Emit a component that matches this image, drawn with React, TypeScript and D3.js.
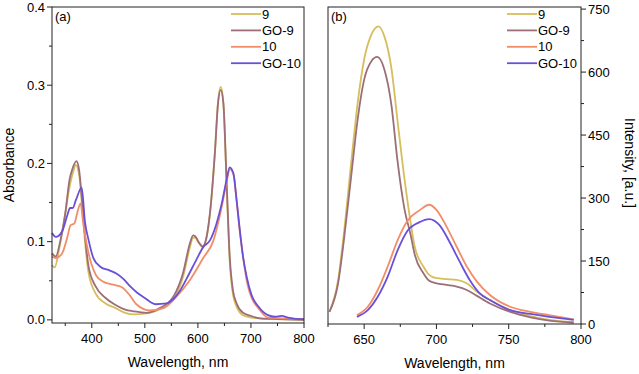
import React, { useEffect, useRef } from 'react';
import * as d3 from 'd3';

// ---- series names / colours
const seriesNames = ['9', 'GO-9', '10', 'GO-10'];
const seriesColors = ['#d6be5c', '#9c6f78', '#f28d68', '#6a50d8'];

// ---- (a) absorbance spectra
const absWl9 = [325, 330, 338, 347, 357, 364, 370, 376, 382, 388, 394, 407, 426, 445, 463, 480, 500, 520, 540, 556, 572, 585, 591, 595, 601, 609, 616, 623, 632, 638, 643, 648, 654, 660, 666, 673, 685, 700, 717, 750, 800];
const absVal9 = [0.070, 0.067, 0.089, 0.123, 0.166, 0.187, 0.198, 0.186, 0.143, 0.094, 0.060, 0.034, 0.021, 0.015, 0.009, 0.007, 0.008, 0.011, 0.018, 0.028, 0.055, 0.093, 0.105, 0.105, 0.099, 0.093, 0.104, 0.137, 0.214, 0.279, 0.298, 0.278, 0.175, 0.075, 0.033, 0.017, 0.006, 0.003, 0.002, 0.001, 0.000];

const absWlGO9 = [325, 332, 341, 350, 358, 364, 371, 376, 382, 388, 394, 407, 426, 445, 463, 478, 503, 528, 554, 572, 585, 591, 595, 601, 609, 616, 623, 632, 638, 643, 648, 654, 660, 666, 673, 685, 700, 717, 750, 800];
const absValGO9 = [0.085, 0.081, 0.102, 0.136, 0.179, 0.194, 0.203, 0.192, 0.150, 0.102, 0.068, 0.043, 0.028, 0.019, 0.013, 0.011, 0.009, 0.015, 0.030, 0.060, 0.098, 0.108, 0.107, 0.100, 0.094, 0.105, 0.138, 0.213, 0.277, 0.294, 0.277, 0.179, 0.081, 0.038, 0.021, 0.009, 0.005, 0.002, 0.001, 0.000];

const absWl10 = [325, 332, 344, 354, 360, 367, 373, 379, 383, 390, 399, 408, 421, 440, 456, 471, 484, 510, 535, 560, 585, 610, 629, 645, 654, 660, 667, 673, 679, 686, 692, 702, 714, 732, 760, 800];
const absVal10 = [0.081, 0.079, 0.085, 0.106, 0.121, 0.123, 0.138, 0.149, 0.128, 0.098, 0.072, 0.057, 0.049, 0.045, 0.042, 0.032, 0.020, 0.012, 0.015, 0.030, 0.051, 0.079, 0.101, 0.145, 0.176, 0.193, 0.186, 0.152, 0.113, 0.077, 0.050, 0.027, 0.015, 0.003, 0.002, 0.001];

const absWlGO10 = [325, 332, 344, 354, 359, 364, 370, 381, 387, 394, 403, 416, 434, 447, 460, 472, 485, 500, 520, 541, 554, 566, 579, 598, 610, 623, 635, 645, 654, 660, 667, 673, 679, 685, 692, 701, 714, 732, 745, 758, 770, 795, 800];
const absValGO10 = [0.111, 0.106, 0.113, 0.134, 0.143, 0.143, 0.153, 0.169, 0.126, 0.102, 0.079, 0.068, 0.063, 0.059, 0.052, 0.043, 0.035, 0.028, 0.020, 0.021, 0.027, 0.037, 0.053, 0.078, 0.093, 0.102, 0.123, 0.149, 0.179, 0.195, 0.187, 0.153, 0.115, 0.081, 0.055, 0.032, 0.017, 0.006, 0.004, 0.005, 0.003, 0.001, 0.001];

// ---- (b) emission spectra
const emWl9 = [626, 632, 636, 641, 645.5, 650, 655, 660, 664, 669, 673, 678, 682, 685, 691, 695, 700, 707, 714, 721, 728, 737, 751, 765, 778, 795];
const emVal9 = [29, 105, 216, 383, 526, 630, 689, 709, 685, 606, 487, 343, 245, 184, 137, 117, 109, 107, 105, 97, 77, 57, 33, 19, 10, 5];

const emWlGO9 = [626, 632, 636, 641, 645.5, 650, 655, 659, 664, 669, 673, 678, 682, 685, 691, 695, 700, 707, 714, 721, 728, 737, 751, 765, 778, 795];
const emValGO9 = [29, 97, 200, 351, 487, 582, 626, 636, 606, 518, 391, 272, 215, 165, 121, 103, 97, 93, 89, 81, 67, 49, 29, 16, 8, 3];

const emWl10 = [645, 652.5, 659.4, 666.3, 673.2, 680, 688, 695, 700, 707, 714, 721, 728, 737, 751, 765, 778, 795];
const emVal10 = [21, 41, 81, 137, 200, 246, 270, 284, 272, 232, 184, 137, 101, 69, 41, 29, 21, 11];

const emWlGO10 = [645, 652.5, 659.4, 666.3, 673.2, 680, 688, 695, 702, 709, 716, 723, 730, 737, 751, 765, 778, 795];
const emValGO10 = [17, 33, 65, 113, 176, 222, 242, 250, 236, 196, 149, 105, 73, 57, 33, 24, 17, 10];

// ---- ticks
const absXTicks = [400, 500, 600, 700, 800];
const absXMinor = [350, 450, 550, 650, 750];
const absYTicks = [0.0, 0.1, 0.2, 0.3, 0.4];
const absYMinor = [0.05, 0.15, 0.25, 0.35];
const emXTicks = [650, 700, 750, 800];
const emXMinor = [625, 675, 725, 775];
const emYTicks = [0, 150, 300, 450, 600, 750];
const emYMinor = [75, 225, 375, 525, 675];

const FONT = '"Liberation Sans", Arial, sans-serif';

const App = () => {
  const ref = useRef(null);

  useEffect(() => {
    const svg = d3.select(ref.current);
    svg.selectAll('*').remove();

    const zip = (xs, ys) => xs.map((x, i) => [x, ys[i]]);

    const drawPanel = (opts) => {
      const { x, y, series, xTicks, xMinor, yTicks, yMinor, yFmt, yRight, tag, legendX } = opts;
      const [x0, x1] = x.range();
      const [y0, y1] = y.range(); // y0 bottom, y1 top
      const g = svg.append('g');

      // lines
      const line = d3.line()
        .x(d => x(d[0]))
        .y(d => y(d[1]))
        .curve(d3.curveMonotoneX);
      series.forEach((s, i) => {
        g.append('path')
          .attr('d', line(s))
          .attr('fill', 'none')
          .attr('stroke', seriesColors[i])
          .attr('stroke-width', 1.8)
          .attr('stroke-linejoin', 'round');
      });

      // frame
      g.append('rect')
        .attr('x', x0).attr('y', y1)
        .attr('width', x1 - x0).attr('height', y0 - y1)
        .attr('fill', 'none').attr('stroke', '#222').attr('stroke-width', 1);

      // x ticks
      xTicks.forEach(t => {
        g.append('line').attr('x1', x(t)).attr('x2', x(t)).attr('y1', y0).attr('y2', y0 + 5).attr('stroke', '#222');
        g.append('text').attr('x', x(t)).attr('y', y0 + 20)
          .attr('text-anchor', 'middle').style('font-size', '13px').style('font-family', FONT).text(t);
      });
      xMinor.forEach(t => {
        g.append('line').attr('x1', x(t)).attr('x2', x(t)).attr('y1', y0).attr('y2', y0 + 3).attr('stroke', '#222');
      });

      // y ticks
      const ax = yRight ? x1 : x0;
      const dir = yRight ? 1 : -1;
      yTicks.forEach(t => {
        g.append('line').attr('x1', ax).attr('x2', ax + dir * 5).attr('y1', y(t)).attr('y2', y(t)).attr('stroke', '#222');
        g.append('text').attr('x', ax + dir * 7).attr('y', y(t) + 4.5)
          .attr('text-anchor', yRight ? 'start' : 'end')
          .style('font-size', '13px').style('font-family', FONT).text(yFmt(t));
      });
      yMinor.forEach(t => {
        g.append('line').attr('x1', ax).attr('x2', ax + dir * 3).attr('y1', y(t)).attr('y2', y(t)).attr('stroke', '#222');
      });

      // x label
      g.append('text').attr('x', (x0 + x1) / 2).attr('y', y0 + 44)
        .attr('text-anchor', 'middle').style('font-size', '14px').style('font-family', FONT)
        .text('Wavelength, nm');

      // panel tag
      g.append('text').attr('x', x0 + 3).attr('y', y1 + 14)
        .style('font-size', '13px').style('font-family', FONT).text(tag);

      // legend
      seriesNames.forEach((n, i) => {
        const ly = 14 + i * 16.4;
        g.append('line').attr('x1', legendX).attr('x2', legendX + 30).attr('y1', ly).attr('y2', ly)
          .attr('stroke', seriesColors[i]).attr('stroke-width', 1.8);
        g.append('text').attr('x', legendX + 31).attr('y', ly + 4.5)
          .style('font-size', '13px').style('font-family', FONT).text(n);
      });
    };

    // panel (a)
    const xa = d3.scaleLinear().domain([325, 800]).range([52, 304]);
    const ya = d3.scaleLinear().domain([-0.004, 0.4]).range([323, 7]);
    drawPanel({
      x: xa, y: ya,
      series: [zip(absWl9, absVal9), zip(absWlGO9, absValGO9), zip(absWl10, absVal10), zip(absWlGO10, absValGO10)],
      xTicks: absXTicks, xMinor: absXMinor, yTicks: absYTicks, yMinor: absYMinor,
      yFmt: d3.format('.1f'), yRight: false, tag: '(a)', legendX: 231,
    });

    // panel (b)
    const xb = d3.scaleLinear().domain([625, 800]).range([328, 581]);
    const yb = d3.scaleLinear().domain([0, 755]).range([324, 7]);
    drawPanel({
      x: xb, y: yb,
      series: [zip(emWl9, emVal9), zip(emWlGO9, emValGO9), zip(emWl10, emVal10), zip(emWlGO10, emValGO10)],
      xTicks: emXTicks, xMinor: emXMinor, yTicks: emYTicks, yMinor: emYMinor,
      yFmt: d => String(d), yRight: true, tag: '(b)', legendX: 507,
    });

    // y labels
    svg.append('text')
      .attr('transform', 'translate(14,165) rotate(-90)')
      .attr('text-anchor', 'middle').style('font-size', '14px').style('font-family', FONT)
      .text('Absorbance');
    svg.append('text')
      .attr('transform', 'translate(625,163) rotate(90)')
      .attr('text-anchor', 'middle').style('font-size', '14px').style('font-family', FONT)
      .text('Intensity, [a.u.]');
  }, []);

  return (
    <svg ref={ref} width={639} height={374}
      style={{ position: 'absolute', left: 0, top: 0, background: '#fff' }} />
  );
};

export default App;
